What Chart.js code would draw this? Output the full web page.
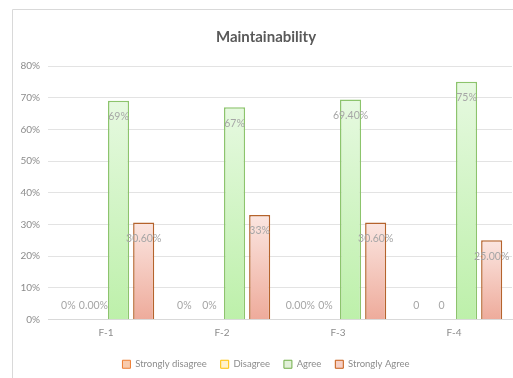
<!DOCTYPE html>
<html lang="en">
<head>
<meta charset="UTF-8">
<title>Maintainability</title>
<script src="https://cdn.jsdelivr.net/npm/chart.js"></script>
<style>
  html, body { margin: 0; padding: 0; background: #fff; }
  #wrap { position: relative; width: 513px; height: 378px; }
</style>
</head>
<body>
<div id="wrap"><canvas id="chart" width="513" height="378"></canvas></div>
<script>
// categories and series
const categories = ["F-1", "F-2", "F-3", "F-4"];
const stronglyDisagree = [0, 0, 0, 0];
const disagree = [0, 0, 0, 0];
const agree = [0.69, 0.67, 0.694, 0.75];
const stronglyAgree = [0.306, 0.33, 0.306, 0.25];

// labels as printed on the bars
const sdLabels = ["0%", "0%", "0.00%", "0"];
const dLabels = ["0.00%", "0%", "0%", "0"];
const agreeLabels = ["69%", "67%", "69.40%", "75%"];
const saLabels = ["30.60%", "33%", "30.60%", "25.00%"];

const grey = "#8c8c8c";
const font = "Lato";

function barGradient(top, bottom) {
  return function (ctx) {
    const chart = ctx.chart;
    if (!chart.chartArea || ctx.type !== "data") return top;
    const y = chart.scales.y;
    const v = ctx.raw || 0;
    const y0 = y.getPixelForValue(v), y1 = y.getPixelForValue(0);
    if (y1 - y0 < 1) return top;
    const g = chart.ctx.createLinearGradient(0, y0, 0, y1);
    g.addColorStop(0, top);
    g.addColorStop(1, bottom);
    return g;
  };
}

// draws the value labels
const barLabels = {
  id: "barLabels",
  afterDatasetsDraw(chart) {
    const c = chart.ctx;
    c.save();
    c.font = "10.5px " + font;
    c.fillStyle = "#a6a6a6";
    c.textAlign = "center";
    c.textBaseline = "middle";
    chart.data.datasets.forEach((ds, i) => {
      const meta = chart.getDatasetMeta(i);
      meta.data.forEach((bar, j) => {
        const txt = ds.valueLabels[j];
        const y = ds.data[j] > 0 ? bar.y + 16 : bar.base - 14;
        c.fillText(txt, bar.x, y);
      });
    });
    c.restore();
  }
};

// light frame of the chart area
const frame = {
  id: "frame",
  beforeDraw(chart) {
    const c = chart.ctx;
    c.save();
    c.strokeStyle = "#d9d9d9";
    c.lineWidth = 1;
    c.beginPath();
    c.moveTo(12.5, 378);
    c.lineTo(12.5, 9.5);
    c.lineTo(513, 9.5);
    c.stroke();
    c.restore();
  }
};

const legendFill = ["#f8cbad", "#fff2cc", "#e2f0d9", "#f6d0c6"];
const legendBorder = ["#ed7d31", "#ffc000", "#70ad47", "#c55a11"];

new Chart(document.getElementById("chart").getContext("2d"), {
  type: "bar",
  data: {
    labels: categories,
    datasets: [
      { label: "Strongly disagree", data: stronglyDisagree, valueLabels: sdLabels,
        backgroundColor: "#f8cbad", borderColor: "#ed7d31", borderWidth: 1.5 },
      { label: "Disagree", data: disagree, valueLabels: dLabels,
        backgroundColor: "#fff2cc", borderColor: "#ffc000", borderWidth: 1.5 },
      { label: "Agree", data: agree, valueLabels: agreeLabels,
        backgroundColor: barGradient("#e6f9e0", "#bdf0aa"), borderColor: "#8cc46c", borderWidth: 1.5 },
      { label: "Strongly Agree", data: stronglyAgree, valueLabels: saLabels,
        backgroundColor: barGradient("#fbe6e1", "#eeab9b"), borderColor: "#b5632c", borderWidth: 1.5 }
    ]
  },
  options: {
    responsive: false,
    animation: false,
    categoryPercentage: 0.866,
    barPercentage: 0.84,
    layout: { padding: { left: 20, right: 1, top: 24, bottom: -1 } },
    plugins: {
      title: {
        display: true,
        text: "Maintainability",
        color: "#595959",
        font: { family: font, size: 15, weight: "bold" },
        padding: { top: 4, bottom: 20 }
      },
      legend: {
        position: "bottom",
        labels: {
          color: grey,
          font: { family: font, size: 9.5 },
          boxWidth: 8,
          boxHeight: 8,
          padding: 14,
          generateLabels(chart) {
            return chart.data.datasets.map((ds, i) => ({
              text: ds.label,
              fillStyle: legendFill[i],
              strokeStyle: legendBorder[i],
              lineWidth: 1,
              fontColor: grey,
              datasetIndex: i
            }));
          }
        }
      },
      tooltip: { enabled: false }
    },
    scales: {
      x: {
        grid: { display: false, drawTicks: false },
        border: { color: "#d9d9d9" },
        ticks: { color: grey, font: { family: font, size: 10 }, padding: 7 }
      },
      y: {
        min: 0,
        max: 0.8,
        afterFit(scale) { scale.width = 28; },
        grid: { color: "#e3e3e3", drawTicks: false },
        border: { display: false },
        ticks: {
          stepSize: 0.1,
          color: grey,
          padding: 8,
          font: { family: font, size: 10 },
          callback: v => Math.round(v * 100) + "%"
        }
      }
    }
  },
  plugins: [barLabels, frame]
});
</script>
</body>
</html>
